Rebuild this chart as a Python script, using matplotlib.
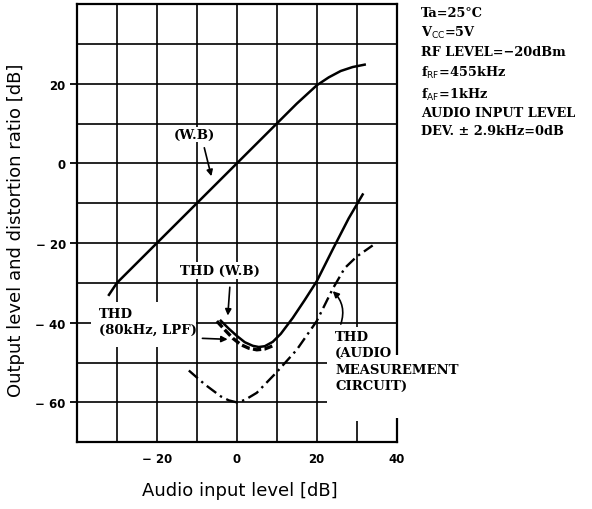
import numpy as np
import matplotlib
matplotlib.use('Agg')
import matplotlib.pyplot as plt
from matplotlib.patches import Rectangle

# output level (W.B)
out_x = [-32, -30, -25, -20, -15, -10, -5, 0, 5, 10, 15, 20, 23, 26, 29, 32]
out_y = [-33, -30, -25, -20, -15, -10, -5, 0, 5, 10, 15, 19.6, 21.6, 23.2, 24.2, 24.8]

# THD (W.B)
thd_wb_x = [-4, -2, 0, 2, 4, 5.5, 7, 9, 11, 14, 17, 20, 24, 28, 31.5]
thd_wb_y = [-39.5, -41.5, -43.3, -44.9, -45.8, -46.1, -45.9, -44.8, -42.8, -38.8, -34.3, -29.6, -21.6, -13.8, -7.8]

# THD (80kHz, LPF)
thd_lpf_x = [-5, -3, -1, 1, 3, 5, 7, 9]
thd_lpf_y = [-39.6, -41.8, -43.9, -45.5, -46.4, -46.8, -46.6, -45.8]

# THD (audio measurement circuit)
thd_am_x = [-12, -8, -4, -2, 0, 2, 5, 10, 15, 20, 24, 27, 30, 34]
thd_am_y = [-52, -55.5, -58.5, -59.5, -60, -59.4, -57.6, -52.4, -46.8, -39.6, -31.5, -26.3, -23.4, -20.6]

x_major = [-20, 0, 20, 40]
x_minor = [-30, -10, 10, 30]
y_major = [20, 0, -20, -40, -60]
y_minor = [30, 10, -10, -30, -50]

conds = ['Ta=25°C', r'V$_{\rm CC}$=5V', 'RF LEVEL=−20dBm', r'f$_{\rm RF}$=455kHz',
         r'f$_{\rm AF}$=1kHz', 'AUDIO INPUT LEVEL', 'DEV. ± 2.9kHz=0dB']

fig = plt.figure(figsize=(5.92, 5.10), dpi=100)
ax = fig.add_axes([0.130, 0.131, 0.540, 0.859])
ax.set_xlim(-40, 40)
ax.set_ylim(-70, 40)
ax.set_xticks(x_major)
ax.set_xticklabels(['− 20', '0', '20', '40'])
ax.set_xticks(x_minor, minor=True)
ax.set_yticks(y_major)
ax.set_yticklabels(['20', '0', '− 20', '− 40', '− 60'])
ax.set_yticks(y_minor, minor=True)
ax.tick_params(axis='x', which='both', length=0, pad=7)
ax.tick_params(axis='y', which='major', length=5, width=1.3, direction='out', pad=3)
ax.tick_params(axis='y', which='minor', length=0)
for lab in ax.get_xticklabels() + ax.get_yticklabels():
    lab.set_fontweight('bold')
    lab.set_fontsize(8.5)
ax.set_axisbelow(True)
ax.grid(which='both', color='black', linewidth=1.2)
for s in ax.spines.values():
    s.set_linewidth(1.6)

# white areas behind the labels
for (x0, y0, w, h) in [(-16, 5.4, 11.2, 3.8), (-15.5, -29.1, 22, 4.4),
                       (-36.5, -46.0, 26.3, 11.2), (22.5, -64.8, 17.5, 23.8)]:
    ax.add_patch(Rectangle((x0, y0), w, h, facecolor='white', edgecolor='none', zorder=1))
ax.add_patch(Rectangle((39, -64.0), 3, 16.0, facecolor='white', edgecolor='none',
                       zorder=3, clip_on=False))

ax.plot(out_x, out_y, color='black', lw=1.8, zorder=2)
ax.plot(thd_wb_x, thd_wb_y, color='black', lw=1.8, zorder=2)
ax.plot(thd_lpf_x, thd_lpf_y, color='black', lw=2.4, ls=(0, (2.5, 1)), zorder=2)
ax.plot(thd_am_x, thd_am_y, color='black', lw=1.7, ls=(0, (5, 2, 1, 2)), zorder=2)

tf = dict(family='DejaVu Serif', fontweight='bold', fontsize=9.5)
ap = dict(arrowstyle='-|>', color='black', lw=1.2, mutation_scale=9)
ax.text(-10.5, 7.3, '(W.B)', ha='center', va='center', zorder=3, **tf)
ax.annotate('', xy=(-6.2, -3.9), xytext=(-8.3, 4.6), arrowprops=ap, zorder=3)
ax.text(-4.3, -26.9, 'THD (W.B)', ha='center', va='center', zorder=3, **tf)
ax.annotate('', xy=(-2.3, -38.9), xytext=(-1.7, -30.4), arrowprops=ap, zorder=3)
ax.text(-34.4, -36.0, 'THD\n(80kHz, LPF)', ha='left', va='top', linespacing=1.3, zorder=3, **tf)
ax.annotate('', xy=(-1.6, -44.2), xytext=(-9.3, -43.9), arrowprops=ap, zorder=3)
ax.text(24.6, -41.8, 'THD\n(AUDIO\nMEASUREMENT\nCIRCUIT)', ha='left', va='top',
        linespacing=1.35, zorder=3, **tf)
ax.annotate('', xy=(23.5, -31.6), xytext=(25.8, -41.0),
            arrowprops=dict(ap, connectionstyle='arc3,rad=0.35'), zorder=3)

fig.text(0.711, 0.987, '\n'.join(conds), ha='left', va='top', family='DejaVu Serif',
         fontweight='bold', fontsize=9.3, linespacing=1.47)

ax.set_xlabel('Audio input level [dB]', fontsize=13, family='DejaVu Sans')
ax.set_ylabel('Output level and distortion ratio [dB]', fontsize=13, family='DejaVu Sans')
ax.xaxis.set_label_coords(0.51, -0.088)
ax.yaxis.set_label_coords(-0.162, 0.486)

fig.savefig('out.png', dpi=100)
